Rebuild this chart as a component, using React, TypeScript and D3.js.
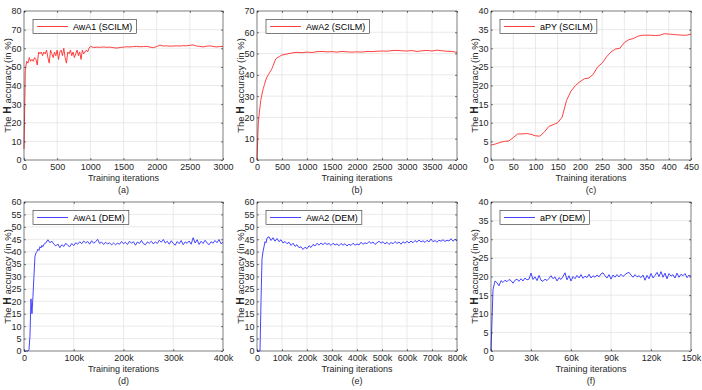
import React, { useEffect, useRef } from "react";
import * as d3 from "d3";

const WIDTH = 702;
const HEIGHT = 390;
const FONT = "'Liberation Sans', Arial, Helvetica, sans-serif";
const RED = "#ff2b2b";
const BLUE = "#3030ff";
const AXIS = "#262626";
const GRID = "#e4e4e4";

// (a) AwA1 (SCILM): iterations 0..1000 every 20, then 1050..3000 every 50
const awa1ScilmEarly = [
  6, 48, 53, 52, 55, 53, 54, 53, 55, 54, 51, 58, 57, 58, 56, 58, 57, 59, 55, 52,
  59, 57, 55, 58, 56, 59, 54, 58, 59, 56, 60, 55, 52, 58, 57, 59, 56, 58, 55, 57,
  59, 56, 58, 54, 59, 57, 58, 59, 58, 60, 61,
];
const awa1ScilmLate = [
  60.4, 60.6, 60.5, 60.7, 60.5, 60.6, 60.3, 60.1, 60.4, 60.6, 60.8, 60.7, 60.9, 61.0,
  60.8, 60.9, 61.0, 60.6, 60.3, 60.9, 61.7, 61.2, 61.3, 61.1, 61.2, 61.3, 61.2, 61.4,
  61.3, 61.6, 61.8, 61.2, 61.0, 60.7, 61.1, 61.3, 61.0, 60.7, 60.9, 61.0,
];

// (b) AwA2 (SCILM): 0..500 every 25, then 600..4000 every 100
const awa2ScilmEarly = [
  0, 17, 23, 28, 31, 33.5, 35.5, 37.5, 39, 40, 41, 42, 43, 44.5, 46, 47.5, 48, 48.3,
  48.6, 49, 49.3,
];
const awa2ScilmLate = [
  49.8, 50.3, 50.6, 50.4, 50.7, 50.5, 50.9, 51.0, 50.8, 50.9, 50.7, 51.0, 50.8, 50.7,
  50.8, 50.7, 51.0, 50.9, 51.1, 51.2, 51.1, 51.4, 51.5, 51.3, 51.2, 51.4, 51.0, 51.3,
  51.5, 51.2, 51.6, 51.3, 51.1, 51.0, 50.5,
];

// (c) aPY (SCILM): 0..450 every 10
const apyScilm = [
  4.0, 4.3, 4.7, 5.0, 5.1, 6.0, 7.0, 7.0, 7.1, 6.9, 6.5, 6.4, 7.5, 9.0, 9.5, 10.0,
  11.5, 16.0, 18.5, 20.0, 21.0, 21.8, 22.0, 23.0, 25.0, 26.0, 27.7, 29.0, 29.8, 30.0,
  31.5, 32.3, 32.6, 33.2, 33.5, 33.5, 33.5, 33.4, 33.5, 33.9, 33.8, 33.7, 33.6, 33.5,
  33.5, 33.8,
];

// (d) AwA1 (DEM): 0..40k every 2k, then 44k..400k every 4k
const awa1DemEarly = [
  0, 0, 0, 0, 0, 0.5, 6, 21, 15, 22, 30, 38, 39.5, 40, 41, 40.5, 42, 41.5, 42.5, 42, 43,
];
const awa1DemLate = [
  43.5, 44.8, 43.6, 44.2, 43.0, 42.3, 43.1, 41.6, 42.8, 42.1, 43.4, 42.5, 42.0, 43.3,
  42.4, 43.6, 43.0, 44.0, 43.2, 44.3, 43.5, 44.1, 43.0, 44.4, 43.4, 44.0, 45.0, 43.3,
  43.9, 42.9, 43.8, 43.1, 43.6, 42.7, 43.5, 42.8, 43.4, 43.0, 44.1, 43.2, 43.8, 42.9,
  44.2, 43.4, 44.0, 42.6, 43.9, 43.3, 44.5, 43.2, 42.8, 43.9, 43.4, 44.2, 43.1, 44.0,
  43.3, 44.6, 43.8, 44.9, 43.5, 44.2, 43.0, 44.4, 43.3, 42.6, 44.1, 43.2, 44.5, 42.8,
  43.9, 43.4, 44.3, 43.0, 45.6, 43.5, 44.8, 42.9, 44.2, 43.3, 44.6, 43.5, 42.8, 44.0,
  43.4, 44.5, 43.6, 44.9, 43.2, 43.8,
];

// (e) AwA2 (DEM): 0..40k every 4k, then 48k..800k every 8k
const awa2DemEarly = [0, 0, 0, 0, 20, 37, 40, 42, 44, 43.5, 45.5];
const awa2DemLate = [
  46.0, 44.5, 45.6, 44.2, 45.3, 44.0, 44.8, 43.5, 44.1, 43.2, 43.8, 42.5, 43.4, 42.1,
  42.8, 41.6, 42.0, 40.9, 41.8, 41.2, 42.4, 41.7, 42.9, 42.3, 43.4, 42.6, 43.5, 42.8,
  43.6, 42.9, 43.3, 42.5, 43.4, 42.7, 43.1, 42.4, 43.3, 42.6, 43.2, 42.3, 43.0, 42.5,
  43.4, 42.6, 43.1, 42.7, 43.8, 43.0, 43.6, 43.2, 44.1, 43.3, 43.9, 42.9, 43.6, 44.2,
  43.4, 44.0, 43.1, 43.8, 42.9, 43.7, 43.2, 44.1, 43.3, 43.9, 43.0, 44.0, 43.4, 44.2,
  43.5, 44.3, 43.6, 44.5, 43.8, 44.7, 43.9, 44.4, 43.7, 44.6, 43.9, 45.1, 44.0, 44.5,
  43.8, 44.6, 44.2, 44.8, 44.1, 44.6, 44.3, 45.2, 44.2, 45.0, 44.3,
];

// (f) aPY (DEM): 0..150k every 1.5k
const apyDem = [
  0, 16.5, 18.8, 18.3, 17.5, 18.9, 18.4, 19.0, 18.6, 19.2, 18.9, 18.2, 19.0, 19.3, 18.7,
  19.4, 18.8, 19.6, 19.1, 19.3, 20.9, 19.2, 19.9, 18.9, 20.3, 19.0, 18.7, 19.3, 18.9,
  19.5, 20.2, 19.4, 19.9, 18.8, 19.7, 19.2, 20.0, 21.0, 19.1, 20.2, 18.8, 20.0, 19.4,
  20.3, 19.6, 20.5, 19.5, 20.1, 19.7, 20.6, 19.6, 20.2, 19.8, 20.4, 19.9, 20.7, 21.0,
  20.2, 19.6, 20.5, 19.3, 20.4, 19.8, 20.5, 19.9, 20.6, 20.0, 20.5, 20.9, 21.1, 20.4,
  19.8, 20.5, 19.9, 20.2, 19.7, 20.4, 19.0, 20.3, 19.4, 20.8, 19.6, 20.3, 21.1, 20.0,
  21.3, 19.8, 20.9, 19.4, 20.8, 20.1, 20.5, 19.6, 20.9, 19.8, 20.6, 20.2, 20.8, 19.7,
  20.4, 20.0,
];

const xTicksA = [0, 500, 1000, 1500, 2000, 2500, 3000];
const xTicksB = [0, 500, 1000, 1500, 2000, 2500, 3000, 3500, 4000];
const xTicksC = [0, 50, 100, 150, 200, 250, 300, 350, 400, 450];
const xTicksD = [0, 100000, 200000, 300000, 400000];
const xTicksE = [0, 100000, 200000, 300000, 400000, 500000, 600000, 700000, 800000];
const xTicksF = [0, 30000, 60000, 90000, 120000, 150000];

type Segment = [number, number, number[]];
type Panel = {
  tag: string;
  name: string;
  color: string;
  box: [number, number, number, number];
  xMax: number;
  xTicks: number[];
  kLabels: boolean;
  yMax: number;
  yStep: number;
  segments: Segment[];
};

const panels: Panel[] = [
  { tag: "(a)", name: "AwA1 (SCILM)", color: RED, box: [24, 11, 223, 160], xMax: 3000, xTicks: xTicksA, kLabels: false, yMax: 80, yStep: 10,
    segments: [[0, 1000, awa1ScilmEarly], [1050, 3000, awa1ScilmLate]] },
  { tag: "(b)", name: "AwA2 (SCILM)", color: RED, box: [257, 11, 457, 160], xMax: 4000, xTicks: xTicksB, kLabels: false, yMax: 70, yStep: 10,
    segments: [[0, 500, awa2ScilmEarly], [600, 4000, awa2ScilmLate]] },
  { tag: "(c)", name: "aPY (SCILM)", color: RED, box: [491, 11, 691, 160], xMax: 450, xTicks: xTicksC, kLabels: false, yMax: 40, yStep: 5,
    segments: [[0, 450, apyScilm]] },
  { tag: "(d)", name: "AwA1 (DEM)", color: BLUE, box: [24, 202, 223, 351], xMax: 400000, xTicks: xTicksD, kLabels: true, yMax: 60, yStep: 5,
    segments: [[0, 40000, awa1DemEarly], [44000, 400000, awa1DemLate]] },
  { tag: "(e)", name: "AwA2 (DEM)", color: BLUE, box: [257, 202, 457, 351], xMax: 800000, xTicks: xTicksE, kLabels: true, yMax: 60, yStep: 5,
    segments: [[0, 40000, awa2DemEarly], [48000, 800000, awa2DemLate]] },
  { tag: "(f)", name: "aPY (DEM)", color: BLUE, box: [491, 202, 691, 351], xMax: 150000, xTicks: xTicksF, kLabels: true, yMax: 40, yStep: 5,
    segments: [[0, 150000, apyDem]] },
];

const fmtK = (d: number) => (d >= 1000 ? d / 1000 + "k" : String(d));
const fmtPlain = (d: number) => String(d);

function drawPanel(svg: any, p: Panel) {
  const [l, t, r, b] = p.box;
  const x = d3.scaleLinear().domain([0, p.xMax]).range([l, r]);
  const y = d3.scaleLinear().domain([0, p.yMax]).range([b, t]);
  const yTicks = d3.range(0, p.yMax + 0.001, p.yStep);
  const g = svg.append("g");

  g.append("rect").attr("x", l).attr("y", t).attr("width", r - l).attr("height", b - t).attr("fill", "#fff");

  // grid
  g.selectAll(".gx").data(p.xTicks.slice(1, -1)).join("line")
    .attr("x1", (d: number) => x(d)).attr("x2", (d: number) => x(d))
    .attr("y1", t).attr("y2", b).attr("stroke", GRID).attr("stroke-width", 0.8);
  g.selectAll(".gy").data(yTicks.slice(1, -1)).join("line")
    .attr("y1", (d: number) => y(d)).attr("y2", (d: number) => y(d))
    .attr("x1", l).attr("x2", r).attr("stroke", GRID).attr("stroke-width", 0.8);

  // series
  const pts: [number, number][] = p.segments.flatMap(([x0, x1, vals]) =>
    vals.map((v, i) => [x0 + (i * (x1 - x0)) / (vals.length - 1), v] as [number, number])
  );
  g.append("path").datum(pts)
    .attr("d", d3.line().x((d) => x(d[0])).y((d) => y(d[1])))
    .attr("fill", "none").attr("stroke", p.color).attr("stroke-width", 0.9)
    .attr("stroke-linejoin", "round");

  // axes
  const styleAxis = (sel: any) => {
    sel.select(".domain").remove();
    sel.selectAll(".tick line").attr("stroke", AXIS).attr("stroke-width", 0.6);
    sel.selectAll("text").attr("fill", AXIS).attr("font-family", FONT).attr("font-size", 9);
  };
  g.append("g").attr("transform", `translate(0,${b})`)
    .call(d3.axisBottom(x).tickValues(p.xTicks).tickFormat((p.kLabels ? fmtK : fmtPlain) as any)
      .tickSizeInner(-2).tickSizeOuter(0).tickPadding(3.6))
    .call(styleAxis);
  g.append("g").attr("transform", `translate(${l},0)`)
    .call(d3.axisLeft(y).tickValues(yTicks).tickSizeInner(-2).tickSizeOuter(0).tickPadding(2.5))
    .call(styleAxis);
  g.append("g").attr("transform", `translate(0,${t})`)
    .call(d3.axisTop(x).tickValues(p.xTicks).tickFormat(() => "").tickSizeInner(-2).tickSizeOuter(0))
    .call(styleAxis);
  g.append("g").attr("transform", `translate(${r},0)`)
    .call(d3.axisRight(y).tickValues(yTicks).tickFormat(() => "").tickSizeInner(-2).tickSizeOuter(0))
    .call(styleAxis);

  // frame
  g.append("rect").attr("x", l).attr("y", t).attr("width", r - l).attr("height", b - t)
    .attr("fill", "none").attr("stroke", AXIS).attr("stroke-width", 0.6);

  // legend
  const lg = g.append("g").attr("transform", `translate(${l + 9},${t + 8.5})`);
  const box = lg.append("rect").attr("height", 14).attr("fill", "#fff")
    .attr("stroke", AXIS).attr("stroke-width", 0.6);
  lg.append("line").attr("x1", 4).attr("x2", 35).attr("y1", 7).attr("y2", 7)
    .attr("stroke", p.color).attr("stroke-width", 0.9);
  const lt = lg.append("text").attr("x", 40).attr("y", 10.3)
    .attr("font-family", FONT).attr("font-size", 9).attr("fill", "#000").text(p.name);
  const tw = (lt.node() as SVGTextElement).getComputedTextLength();
  box.attr("width", 40 + tw + 4);

  // labels
  g.append("text").attr("x", (l + r) / 2).attr("y", b + 21).attr("text-anchor", "middle")
    .attr("font-family", FONT).attr("font-size", 9).attr("fill", AXIS).text("Training iterations");
  g.append("text").attr("x", (l + r) / 2).attr("y", b + 33).attr("text-anchor", "middle")
    .attr("font-family", FONT).attr("font-size", 9).attr("fill", AXIS).text(p.tag);
  const yl = g.append("text")
    .attr("transform", `translate(${l - 13.5},${(t + b) / 2}) rotate(-90)`)
    .attr("text-anchor", "middle").attr("font-family", FONT).attr("font-size", 9.5).attr("fill", AXIS);
  yl.append("tspan").text("The ");
  yl.append("tspan").attr("font-weight", "bold").attr("font-size", 10.5).text("H");
  yl.append("tspan").text(" accuracy (in %)");
}

export default function App() {
  const svgRef = useRef<SVGSVGElement>(null);

  useEffect(() => {
    const svg = d3.select(svgRef.current);
    svg.selectAll("*").remove();
    panels.forEach((p) => drawPanel(svg, p));
  }, []);

  return (
    <svg
      ref={svgRef}
      width={WIDTH}
      height={HEIGHT}
      style={{ position: "absolute", left: 0, top: 0, background: "#fff" }}
    />
  );
}
